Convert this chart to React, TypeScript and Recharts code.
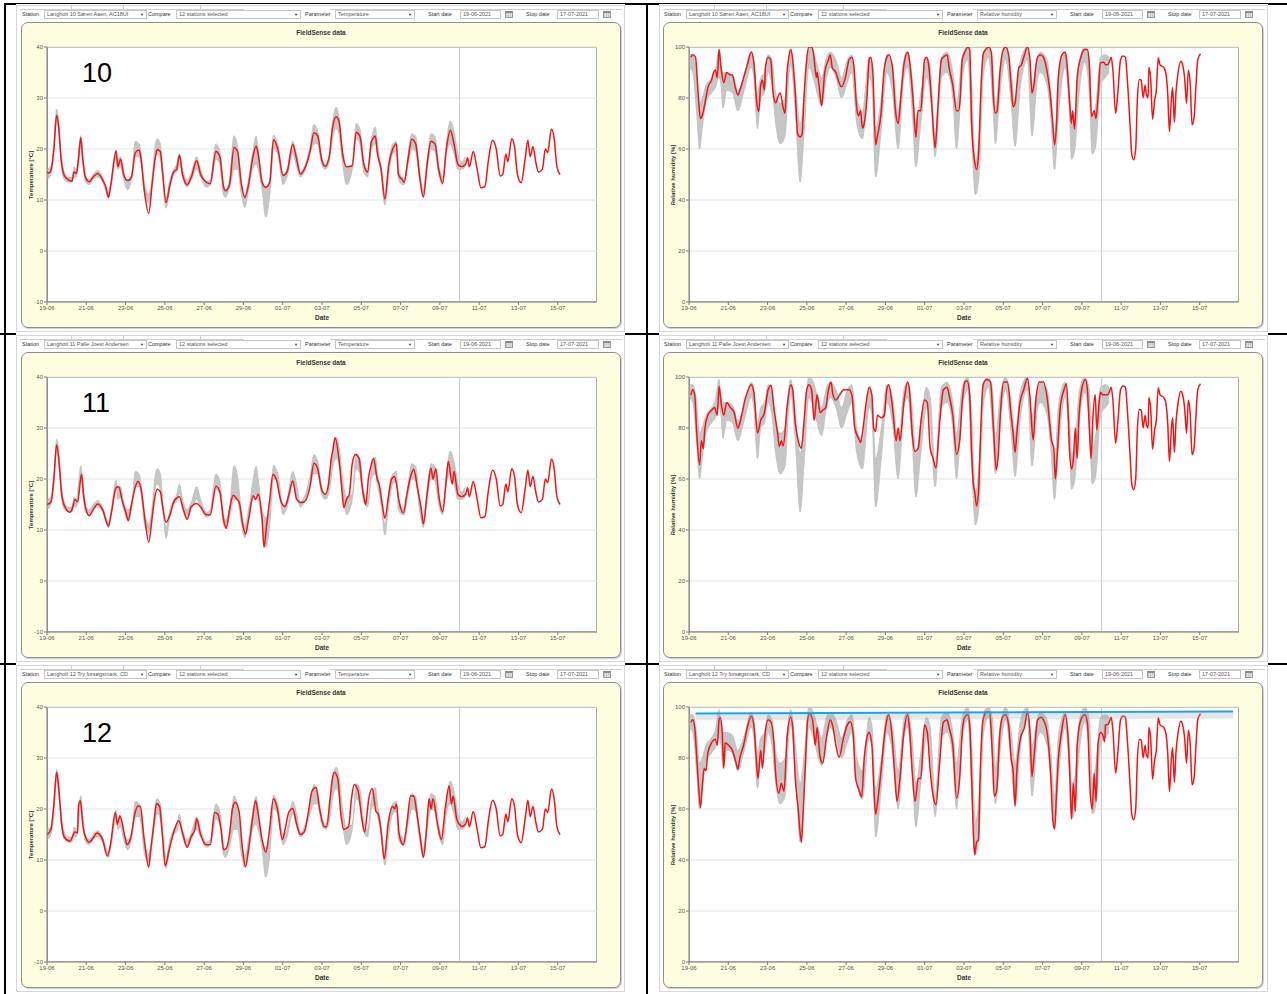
import React from 'react';
import { ComposedChart, Line, Area, XAxis, YAxis, CartesianGrid, ReferenceLine } from 'recharts';

type P = [number, number];
type R = [number, number, number];

const FONT = '"Liberation Sans", Arial, sans-serif';

// ---- axis categories ----
const dateTicks = [0, 2, 4, 6, 8, 10, 12, 14, 16, 18, 20, 22, 24, 26];
const dateLabels = ['19-06', '21-06', '23-06', '25-06', '27-06', '29-06', '01-07', '03-07', '05-07', '07-07', '09-07', '11-07', '13-07', '15-07'];
const tempTicks = [-10, 0, 10, 20, 30, 40];
const rhTicks = [0, 20, 40, 60, 80, 100];
const nowDay = 21;

const stations = ['Langholt 10 Søren Aaen, AC18UI', 'Langholt 11 Palle Joest Andersen', 'Langholt 12 Try forsøgsmark, CD'];
const panelNumbers = ['10', '11', '12'];

// ---- temperature: forecast (shared) ----
const tempForecast: P[] = [[21.11,16.5],[21.31,17],[21.41,18.3],[21.5,16.5],[21.7,19.5],[21.9,16],[22.09,12.4],[22.29,12.6],[22.48,18],[22.68,21.7],[22.87,20],[23.07,14.7],[23.2,15],[23.36,19],[23.46,17.5],[23.66,22],[23.8,20.5],[23.95,15],[24.14,13.4],[24.34,18],[24.48,21.7],[24.6,18.5],[24.74,20.5],[24.88,17.5],[25.02,15.5],[25.22,16],[25.37,20],[25.49,19.3],[25.68,23.9],[25.82,22],[25.96,16.5],[26.12,15]];

// ---- temperature: other stations (min / max of the comparison group) ----
const tempGray: R[] = [[0,14,16],[0.2,15,16.5],[0.35,19,21],[0.49,25.5,27.8],[0.6,23,25.5],[0.72,17,19],[0.88,14,15.5],[1.08,13.5,14.5],[1.27,13.5,14.5],[1.38,14.5,16.5],[1.5,14.5,16],[1.6,17,19],[1.72,20.5,22.6],[1.82,17,19],[1.96,13.5,14.8],[2.15,13,14],[2.35,14,15],[2.58,14.5,15.8],[2.83,13.5,14.5],[3.13,10.5,11.5],[3.25,12.5,13.5],[3.52,18,19.8],[3.6,16,18],[3.75,16.5,18.5],[3.9,14,15.5],[4.11,12,14],[4.3,14,15],[4.5,18.5,21.5],[4.69,18.5,21],[4.79,17,19],[4.95,11.5,13.5],[5.18,9.5,11.2],[5.35,13,14.5],[5.5,18,20.5],[5.61,19,22],[5.77,18,21],[5.87,15,17],[6.06,8.4,10.5],[6.26,12.5,14],[6.45,15,16],[6.6,15.5,17],[6.74,17,19],[6.9,14.5,16],[7.14,12.5,14],[7.35,14,15.5],[7.62,16,18.5],[7.82,14.5,16],[8.11,12.5,13.5],[8.31,13,14],[8.6,18,21],[8.8,17,19.5],[8.99,11,13],[9.09,10.5,12],[9.29,12.5,14],[9.52,16,22.6],[9.7,16,20.5],[9.9,11,13.5],[10.07,8.5,11],[10.26,12,14],[10.46,16,19],[10.65,17,22.5],[10.75,16,20],[10.95,12,14],[11.14,6.6,12.5],[11.34,11,14],[11.53,20,22.7],[11.75,19,21],[12.02,13,15],[12.22,14.5,16],[12.51,19,21.5],[12.71,16.5,19],[12.9,14.5,15.5],[13.1,15.5,16.5],[13.39,19,20.5],[13.59,21,24.8],[13.78,21,23.5],[13.98,17,18.5],[14.17,16,17],[14.37,17.5,19],[14.53,22,25],[14.72,24,28.2],[14.86,23,26.5],[15.05,17,20],[15.25,13,16.5],[15.54,16,17],[15.74,22,25],[15.93,21,24],[16.13,15.5,17.5],[16.32,14.5,16],[16.52,20,22],[16.72,21,24.3],[16.81,19,21.5],[17.01,15,16.5],[17.2,9,11],[17.4,15,17.5],[17.6,19,21],[17.79,19.5,21.5],[17.89,14,16],[18.08,13,14.5],[18.18,13,14],[18.38,17,19],[18.57,20,23],[18.77,19.5,22.5],[18.96,14,16],[19.16,10.5,12],[19.35,16,18],[19.55,20,23],[19.75,19.5,22.5],[19.94,15,17],[20.14,13,14.5],[20.33,19,21],[20.53,21,25.5],[20.72,19,23.5],[20.92,16,19],[21.11,16,17.5],[21.3,16.5,18.5]];

// ---- temperature: selected station ----
const temp10: P[] = [[0,15.5],[0.1,15.3],[0.2,15.8],[0.35,20],[0.49,26.6],[0.6,24],[0.72,18],[0.88,14.8],[1.08,14],[1.27,13.7],[1.38,15.5],[1.5,15.2],[1.6,18],[1.72,22.2],[1.82,18],[1.96,14.4],[2.15,13.6],[2.35,14.5],[2.58,15.2],[2.83,14],[3.0,12.5],[3.13,10.5],[3.25,13],[3.52,19.6],[3.6,16.5],[3.75,18],[3.9,15],[4.11,13.8],[4.3,14.5],[4.5,19.3],[4.69,19.8],[4.79,18],[4.95,12],[5.18,7.4],[5.35,13],[5.5,18],[5.61,19.9],[5.77,19.5],[5.87,16],[6.06,9.5],[6.26,13],[6.45,15.5],[6.6,16],[6.74,18.8],[6.9,15],[7.14,13],[7.35,14.5],[7.62,17.7],[7.82,15],[8.11,13.5],[8.31,13.2],[8.6,19.5],[8.8,18.5],[8.99,12.5],[9.09,11.8],[9.29,13],[9.52,20.3],[9.7,19.5],[9.9,13],[10.07,10.5],[10.26,13],[10.46,18],[10.65,20.6],[10.75,19],[10.95,13.5],[11.14,12.5],[11.34,13.5],[11.53,21.8],[11.75,20],[12.02,14.8],[12.22,15.5],[12.51,20.9],[12.71,18],[12.9,15.1],[13.1,16],[13.39,19.5],[13.59,23.2],[13.78,22.6],[13.98,18],[14.17,16.6],[14.37,18.5],[14.53,24],[14.72,26.3],[14.86,25.5],[15.05,19],[15.25,16.5],[15.54,16.7],[15.74,23.3],[15.93,22.5],[16.13,17],[16.32,15.5],[16.52,21.5],[16.72,22.5],[16.81,19.5],[17.01,16],[17.2,10.2],[17.4,17],[17.6,20],[17.79,21],[17.89,15],[18.08,14],[18.18,13.5],[18.38,18],[18.57,21.9],[18.77,21],[18.96,15],[19.16,10.6],[19.35,17],[19.55,21.5],[19.75,21],[19.94,16],[20.14,13.3],[20.33,20],[20.53,23.7],[20.72,21],[20.92,17],[21.11,16.5]];

const temp11: P[] = [[0,15],[0.2,15.5],[0.35,20],[0.49,26.7],[0.62,23],[0.75,17],[0.88,14.8],[1.17,13.5],[1.27,14],[1.43,16],[1.56,15.5],[1.76,21],[1.86,17],[1.96,14.5],[2.15,12.8],[2.35,14],[2.58,15.1],[2.83,14],[3.13,10.8],[3.26,13],[3.52,18.3],[3.66,18.5],[3.81,16],[4.01,13.5],[4.14,11.8],[4.3,15],[4.5,18.5],[4.63,19.5],[4.79,18],[4.99,12],[5.18,7.6],[5.34,12],[5.47,16],[5.61,18],[5.77,17.5],[5.87,15],[6.06,11.5],[6.26,13],[6.45,15.5],[6.65,16.4],[6.74,16.5],[6.94,14],[7.14,12.1],[7.33,14.5],[7.62,15.2],[7.82,14.5],[8.11,13],[8.31,13],[8.6,18.6],[8.8,17.5],[8.99,12],[9.13,10.3],[9.29,14],[9.48,16.8],[9.68,16],[9.78,15.5],[9.97,11],[10.11,9.2],[10.26,12],[10.5,16.7],[10.62,16],[10.75,17],[10.95,12],[11.05,6.6],[11.18,11],[11.34,16],[11.5,20.9],[11.67,20],[11.92,15.5],[12.12,14.6],[12.32,17],[12.51,19.6],[12.71,16],[12.9,15.4],[13.1,15.5],[13.39,18.5],[13.59,23.1],[13.78,22],[13.98,18],[14.17,17],[14.33,19],[14.47,24],[14.57,26],[14.66,28.1],[14.86,24],[15.01,18],[15.11,14.4],[15.25,16],[15.39,17],[15.54,23],[15.7,24.8],[15.89,24],[16.03,19],[16.13,16.5],[16.23,15],[16.36,20],[16.52,23],[16.62,24],[16.81,20],[16.91,19],[17.07,15],[17.2,12.3],[17.4,17],[17.54,20],[17.69,20.5],[17.79,19],[17.93,15.5],[18.14,13.4],[18.32,17],[18.48,20],[18.67,21.9],[18.87,18],[19.06,14],[19.16,11.2],[19.35,17],[19.55,22.1],[19.65,20],[19.8,22],[19.94,17],[20.14,13.6],[20.33,20],[20.43,23.5],[20.63,19],[20.72,21.5],[20.92,17],[21.11,16.5]];

const temp12: P[] = [[0,15],[0.2,16],[0.35,21],[0.49,27.2],[0.62,23],[0.75,17],[0.88,14.5],[1.17,13.7],[1.43,15.5],[1.56,15.3],[1.6,20.5],[1.7,21.6],[1.82,17],[1.96,14.5],[2.15,13.5],[2.35,14.3],[2.54,15.3],[2.83,14],[3.07,10.8],[3.23,13],[3.48,19.3],[3.58,17],[3.71,18.7],[3.97,14.5],[4.07,13],[4.24,14],[4.5,19.5],[4.63,20.6],[4.75,20.5],[4.95,14],[5.18,8.6],[5.28,12],[5.47,18],[5.57,21.1],[5.73,20.5],[5.87,15],[6.02,8.9],[6.22,12],[6.45,15.5],[6.71,17.7],[6.9,15.3],[7.14,12.5],[7.33,14.5],[7.53,16],[7.62,18.1],[7.82,15],[8.11,13],[8.31,13],[8.54,19.3],[8.7,19],[8.86,16],[8.99,12],[9.13,12.3],[9.29,15],[9.44,20],[9.58,21.3],[9.78,19.5],[9.93,13],[10.11,8.7],[10.26,12],[10.46,18],[10.62,21.6],[10.75,19],[10.95,14],[11.14,11.5],[11.3,15],[11.53,22],[11.73,20],[11.98,14],[12.12,16],[12.32,19.5],[12.51,20.1],[12.71,17],[12.9,15],[13.1,15.5],[13.29,19],[13.49,23.5],[13.69,24.2],[13.88,20],[14.12,16.5],[14.23,16.5],[14.41,22],[14.53,26],[14.62,27.2],[14.8,26],[14.96,19],[15.11,16],[15.35,16.5],[15.5,22],[15.64,24.8],[15.84,23.5],[16.03,18],[16.17,15.5],[16.32,20],[16.38,22],[16.56,24],[16.75,19.5],[16.87,19],[17.01,15.5],[17.17,10.2],[17.36,17],[17.6,20.5],[17.69,20],[17.79,21],[17.93,15],[18.14,13],[18.32,17],[18.51,22.6],[18.67,22.5],[18.87,18],[19.02,14],[19.16,10.5],[19.32,16],[19.45,22],[19.55,20],[19.65,22],[19.88,17],[20.08,14],[20.27,20],[20.47,24.5],[20.59,21],[20.68,22.5],[20.86,18],[21.11,16.5]];

// ---- relative humidity: forecast (shared) ----
const rhForecast: P[] = [[21.2,93],[21.3,93],[21.39,94],[21.49,96],[21.58,91],[21.72,74],[21.83,82],[21.97,95],[22.1,96.5],[22.22,96],[22.29,90],[22.45,70],[22.54,58],[22.64,55.8],[22.74,60],[22.83,80],[22.93,87.3],[23.02,87],[23.12,80.1],[23.22,85],[23.27,82],[23.37,80],[23.41,92],[23.5,88],[23.6,71.7],[23.7,79],[23.79,83],[23.89,95.8],[23.98,93],[24.17,92],[24.27,90],[24.37,82],[24.46,66.9],[24.56,80],[24.62,84],[24.71,70.5],[24.79,82],[24.9,90],[25.04,94.4],[25.13,93],[25.23,88],[25.33,77.9],[25.42,90.9],[25.52,85],[25.61,69.5],[25.71,72],[25.81,85],[25.9,95],[26.04,97.4]];

// ---- relative humidity: other stations (min / max) ----
const rhGray: R[] = [[0,92,97],[0.19,90,97],[0.38,75,90],[0.54,60,78],[0.67,68,80],[0.86,78,85],[1.15,82,88],[1.34,84,91],[1.53,88,99],[1.63,85,93],[1.73,76,90],[1.92,83,90],[2.21,82,89],[2.49,75,83],[2.78,82,88],[3.17,92,98],[3.3,88,95],[3.49,68,82],[3.65,80,88],[3.84,82,90],[4.03,90,97],[4.22,85,95],[4.41,70,82],[4.64,62,78],[4.89,65,80],[5.08,88,96],[5.18,93,99],[5.41,75,85],[5.66,47,70],[5.85,65,80],[6.1,92,100],[6.33,88,98],[6.52,82,93],[6.75,77,88],[7.0,88,96],[7.19,92,98],[7.48,88,95],[7.77,80,88],[8.06,86,95],[8.29,90,97],[8.54,70,80],[8.83,64,75],[9.17,88,96],[9.31,85,93],[9.5,49,68],[9.79,68,80],[10.07,90,97],[10.36,82,92],[10.65,60,75],[10.94,88,95],[11.13,92,98],[11.36,75,88],[11.55,53,70],[11.8,70,82],[12.09,88,96],[12.28,82,92],[12.53,57,65],[12.85,88,96],[13.14,90,98],[13.43,80,90],[13.62,60,78],[13.91,88,96],[14.2,95,100],[14.39,65,85],[14.58,42,55],[14.77,50,65],[15.0,90,98],[15.25,96,100],[15.45,80,95],[15.6,62,76],[15.83,82,92],[16.12,95,100],[16.4,78,90],[16.6,61,78],[16.88,85,95],[17.23,95,100],[17.46,65,85],[17.75,88,96],[17.88,90,98],[18.23,85,95],[18.42,72,82],[18.61,52,65],[18.8,72,88],[19.15,92,98],[19.38,72,82],[19.47,56,70],[19.63,59,72],[19.86,82,94],[20.15,94,100],[20.38,82,95],[20.53,58,72],[20.72,62,78],[20.95,85,96],[21.2,88,97],[21.39,90,96]];

// ---- relative humidity: selected station ----
const rh10: P[] = [[0.1,96],[0.19,97],[0.33,96],[0.48,80],[0.58,72],[0.67,73],[0.86,80],[0.96,84],[1.15,87],[1.25,90],[1.34,91],[1.44,88],[1.53,99],[1.63,92],[1.77,86],[1.92,90],[2.11,89],[2.21,89],[2.36,84],[2.49,81.2],[2.59,83],[2.78,88],[2.97,93],[3.17,98],[3.3,94],[3.45,78],[3.55,74.7],[3.65,85],[3.74,87],[3.84,83.1],[3.89,92],[4.03,96],[4.16,95],[4.28,82],[4.41,78],[4.51,80],[4.64,82],[4.8,76],[4.89,74],[4.99,90],[5.08,96],[5.18,99],[5.28,95],[5.41,82],[5.53,66],[5.66,64.7],[5.76,66],[5.85,80],[5.99,95],[6.1,100],[6.24,100],[6.33,98],[6.49,88],[6.52,90],[6.62,85],[6.75,77],[6.91,90],[7.1,95],[7.19,97],[7.29,92],[7.48,90],[7.64,86],[7.77,84.4],[7.96,88],[8.15,95],[8.29,96],[8.4,92],[8.54,76],[8.63,73],[8.73,75],[8.83,68.2],[8.92,70],[9.06,80],[9.17,95],[9.25,96],[9.36,90],[9.5,61.7],[9.59,65],[9.79,75],[9.92,90],[10.07,96],[10.17,97],[10.36,92],[10.51,75],[10.65,70],[10.78,80],[10.94,93],[11.13,98],[11.22,95],[11.42,78],[11.55,64.5],[11.65,75],[11.8,75],[11.9,85],[11.99,95],[12.09,96],[12.2,93],[12.38,75],[12.53,60.4],[12.66,75],[12.85,95],[12.95,96],[13.14,97],[13.24,92],[13.43,85],[13.62,75],[13.72,75],[13.81,80],[13.91,95],[14.04,98],[14.2,100],[14.29,99],[14.39,70],[14.54,55],[14.64,52],[14.74,58],[14.87,85],[14.97,97],[15.1,99],[15.25,100],[15.39,98],[15.5,80],[15.6,74],[15.69,75],[15.83,90],[15.96,98],[16.12,100],[16.27,97],[16.4,85],[16.5,76.6],[16.6,78],[16.69,85],[16.79,92],[16.92,93],[17.08,97],[17.23,100],[17.36,95],[17.46,82],[17.56,85],[17.65,92],[17.75,96],[17.88,97],[18.04,96],[18.19,92],[18.38,82],[18.52,70],[18.61,61.7],[18.71,70],[18.8,88],[18.99,97],[19.15,98],[19.22,95],[19.38,78],[19.47,70],[19.53,75],[19.63,67.8],[19.76,88],[19.95,96],[20.15,99],[20.28,99],[20.38,93],[20.49,72.7],[20.63,75],[20.72,72],[20.82,80],[20.95,93.8],[21.1,94],[21.2,93]];

const rh11: P[] = [[0.1,93],[0.19,95],[0.29,93],[0.38,80],[0.54,65.6],[0.63,75],[0.73,72],[0.81,80],[0.96,85],[1.15,87],[1.3,88],[1.44,85],[1.53,96.4],[1.63,90],[1.77,85],[1.92,90],[2.11,88],[2.3,86],[2.49,79.9],[2.59,82],[2.88,92],[3.17,97],[3.3,94],[3.49,78],[3.65,83],[3.84,86],[4.03,95],[4.18,96.8],[4.32,88],[4.51,78],[4.6,72.7],[4.7,75],[4.8,73],[4.99,88],[5.18,97],[5.28,95],[5.41,82],[5.56,75],[5.72,72.1],[5.85,82],[5.99,95],[6.1,97],[6.24,95],[6.37,83],[6.52,93],[6.68,86],[6.81,87],[6.96,88],[7.1,95],[7.23,98],[7.33,93],[7.48,91],[7.67,93],[7.87,95],[8.15,95],[8.29,93],[8.44,80],[8.63,76],[8.73,74.3],[8.83,78],[9.02,90],[9.17,96],[9.31,93],[9.4,80],[9.5,78.6],[9.59,85],[9.79,84],[9.94,85],[10.07,95],[10.17,97],[10.36,88],[10.55,75],[10.65,80],[10.74,75],[10.94,90],[11.13,98],[11.22,95],[11.36,78],[11.51,70.8],[11.67,72],[11.8,82],[11.99,91],[12.13,90],[12.28,72],[12.43,68],[12.57,64.3],[12.76,82],[12.95,95],[13.14,96],[13.24,93],[13.43,85],[13.62,69.7],[13.78,75],[13.91,90],[14.04,98],[14.16,98.5],[14.29,93],[14.39,70],[14.49,57],[14.54,55.2],[14.64,49.4],[14.74,55],[14.81,70],[14.97,97],[15.16,99],[15.35,98],[15.5,80],[15.64,63.6],[15.73,68],[15.89,90],[16.02,98],[16.21,98],[16.4,85],[16.5,78],[16.6,70.4],[16.69,78],[16.85,90],[17.04,95],[17.23,99.5],[17.36,92],[17.52,75.3],[17.65,90],[17.84,98],[18.04,98],[18.23,92],[18.46,75],[18.57,72],[18.65,60],[18.75,70],[18.9,88],[19.09,95],[19.22,97.4],[19.38,70],[19.47,63.9],[19.57,68],[19.67,80],[19.76,68],[19.86,85],[19.99,95],[20.18,99],[20.28,95],[20.38,80],[20.47,68],[20.57,85],[20.68,93],[20.76,79.2],[20.88,90],[20.95,94],[21.07,93],[21.2,93]];

const rh12: P[] = [[0.1,94],[0.19,95],[0.29,92],[0.38,82],[0.48,70],[0.58,60.6],[0.67,68],[0.77,76],[0.86,75],[0.96,82],[1.15,86],[1.34,87.4],[1.44,85],[1.53,95],[1.59,96],[1.69,90],[1.77,76],[1.84,86],[2.01,85],[2.21,83],[2.4,78],[2.49,75.6],[2.59,80],[2.78,85],[2.97,92],[3.17,96.4],[3.3,93],[3.42,80],[3.51,72],[3.65,83],[3.74,76],[3.88,90],[4.03,95],[4.18,94],[4.32,86],[4.41,74],[4.57,66.2],[4.7,70],[4.84,67],[4.99,88],[5.18,96],[5.28,92],[5.41,72],[5.56,60],[5.72,47],[5.79,55],[5.91,75],[6.04,95],[6.14,97.4],[6.29,95],[6.43,85],[6.52,92],[6.68,80],[6.81,78],[7.0,88],[7.19,95],[7.33,92],[7.48,85],[7.64,80.3],[7.87,88],[8.06,93],[8.21,94.2],[8.35,90],[8.48,72],[8.63,68],[8.79,64.7],[8.92,80],[9.06,88],[9.17,90],[9.31,85],[9.4,70],[9.5,58],[9.59,62],[9.79,76],[9.94,88],[10.07,95],[10.17,97],[10.32,90],[10.46,75],[10.59,63],[10.74,72],[10.94,90],[11.13,97],[11.22,92],[11.36,75],[11.51,63],[11.67,72],[11.8,72],[11.99,92.9],[12.13,90],[12.28,75],[12.43,65],[12.57,61.7],[12.76,78],[12.95,94],[13.14,95],[13.24,92],[13.43,85],[13.62,64.3],[13.78,72],[13.91,90],[14.04,96],[14.2,97],[14.29,93],[14.39,72],[14.49,48],[14.54,42.1],[14.64,47],[14.74,48],[14.81,70],[14.97,95],[15.16,98],[15.31,98],[15.45,80],[15.54,65],[15.66,67],[15.83,90],[15.96,96],[16.12,97],[16.27,93],[16.4,80],[16.5,75],[16.6,61.3],[16.69,75],[16.88,88],[17.08,92],[17.23,98],[17.36,90],[17.46,72.7],[17.56,80],[17.75,95],[17.94,96],[18.04,95],[18.23,90],[18.42,72],[18.52,55.8],[18.61,52.2],[18.71,66],[18.8,79],[18.96,90],[19.15,97],[19.28,90],[19.38,75],[19.47,56.1],[19.57,70],[19.67,59.1],[19.76,85],[19.95,95],[20.15,97],[20.28,94],[20.43,65.8],[20.53,60],[20.63,74],[20.72,63],[20.82,85],[20.95,90],[21.07,89],[21.16,86.4],[21.2,93]];

// blue reference line drawn in the last humidity panel
const rhBlue: P[] = [[0.33, 97.5], [27.7, 98.2]];

const tempRed = [temp10, temp11, temp12];
const rhRed = [rh10, rh11, rh12];

const toPts = (a: P[]) => a.map(([d, v]) => ({ d, v }));
const toRange = (a: R[]) => a.map(([d, lo, hi]) => ({ d, range: [lo, hi] }));
const fmtDate = (v: number) => dateLabels[dateTicks.indexOf(v)] ?? '';

const txt: React.CSSProperties = { position: 'absolute', fontFamily: FONT, fontSize: 5.5, color: '#333', whiteSpace: 'nowrap', lineHeight: '9px' };

function Box({ left, width, text, arrow }: { left: number; width: number; text: string; arrow?: boolean }) {
  return (
    <div style={{ position: 'absolute', left, top: 5, width, height: 9, boxSizing: 'border-box', border: '1px solid #c6c6c6', background: '#fff' }}>
      <div style={{ ...txt, left: 2, top: -1, color: '#555' }}>{text}</div>
      {arrow && <div style={{ ...txt, right: 2, top: -1, fontSize: 4, color: '#333' }}>▼</div>}
    </div>
  );
}

function Cal({ left }: { left: number }) {
  return <div style={{ position: 'absolute', left, top: 6, width: 8, height: 7, boxSizing: 'border-box', border: '1px solid #9a9a9a', borderTop: '2px solid #8a8a8a', background: 'repeating-linear-gradient(90deg,#c8c8c8 0 1px,#e2e2e2 1px 2px)' }} />;
}

function Panel({ col, row, temp }: { col: number; row: number; temp: boolean }) {
  const panelLeft = col === 0 ? 16 : 659;
  const panelWidth = col === 0 ? 609 : 609;
  const boxLeft = col === 0 ? 5 : 4; // yellow box left inside panel
  const top = 4 + row * 330;
  const bx = boxLeft;
  const red = temp ? tempRed[row] : rhRed[row];
  const fc = temp ? tempForecast : rhForecast;
  const gray = temp ? tempGray : rhGray;
  return (
    <div style={{ position: 'absolute', left: panelLeft, top, width: panelWidth, height: 330, background: '#fff' }}>
      <div style={{ position: 'absolute', left: 0, top: 1, width: panelWidth, height: 327, boxSizing: 'border-box', border: '1px solid #d6d6d6' }} />
      {/* tab strip */}
      <div style={{ position: 'absolute', left: 4, top: 5, width: 224, height: 0, borderTop: '1px solid #cfcfcf' }} />
      <div style={{ position: 'absolute', left: 314, top: 5, width: 292, height: 0, borderTop: '1px solid #cfcfcf' }} />
      {[55, 107, 184].map((x) => (
        <div key={x} style={{ position: 'absolute', left: x, top: 1, width: 0, height: 4, borderLeft: '1px solid #cfcfcf' }} />
      ))}
      {/* toolbar */}
      <div style={{ position: 'absolute', left: bx, top: 1, width: 600, height: 16 }}>
        <div style={{ ...txt, left: 1, top: 5 }}>Station</div>
        <Box left={23} width={103} text={stations[row]} arrow />
        <div style={{ ...txt, left: 127, top: 5 }}>Compare</div>
        <Box left={155} width={125} text="12 stations selected" arrow />
        <div style={{ ...txt, left: 284, top: 5 }}>Parameter</div>
        <Box left={314} width={80} text={temp ? 'Temperature' : 'Relative humidity'} arrow />
        <div style={{ ...txt, left: 407, top: 5 }}>Start date</div>
        <Box left={439} width={41} text="19-06-2021" />
        <Cal left={484} />
        <div style={{ ...txt, left: 505, top: 5 }}>Stop date</div>
        <Box left={536} width={42} text="17-07-2021" />
        <Cal left={582} />
      </div>
      {/* yellow chart box */}
      <div style={{ position: 'absolute', left: bx, top: 18, width: 600, height: 306, boxSizing: 'border-box', background: '#fefee1', border: '1px solid #8e8e8e', borderRadius: 7, boxShadow: '1px 1px 1px rgba(0,0,0,0.2)' }}>
        <div style={{ position: 'absolute', left: -1, top: -1, width: 600, height: 306 }}>
          <div style={{ position: 'absolute', left: 0, top: 7, width: 600, textAlign: 'center', fontFamily: FONT, fontWeight: 'bold', fontSize: 6.5, color: '#333', lineHeight: '8px' }}>FieldSense data</div>
          <div style={{ position: 'absolute', left: 26, top: 25, width: 550, height: 255, boxSizing: 'border-box', background: '#fff', border: '1px solid #a9a9a9' }} />
          <ComposedChart width={600} height={306} margin={{ top: 25, right: 24, bottom: 0, left: 0 }} style={{ position: 'absolute', left: 0, top: 0 }}>
            <CartesianGrid vertical={false} stroke="#e2e2e2" />
            <XAxis type="number" dataKey="d" domain={[0, 28]} ticks={dateTicks} interval={0} tickFormatter={fmtDate} height={26} tickSize={3} tickMargin={1} stroke="#7a7a7a" tick={{ fontSize: 6, fill: '#555', fontFamily: FONT }} allowDataOverflow />
            <YAxis type="number" domain={temp ? [-10, 40] : [0, 100]} ticks={temp ? tempTicks : rhTicks} interval={0} width={26} tickSize={3} tickMargin={1} stroke="#7a7a7a" tick={{ fontSize: 6, fill: '#555', fontFamily: FONT }} allowDataOverflow />
            <ReferenceLine x={nowDay} stroke="#cdcdcd" strokeWidth={1} />
            <Area data={toRange(gray)} dataKey="range" type="monotone" stroke="#bcbcbc" strokeWidth={0.8} fill="#c6c6c6" fillOpacity={1} dot={false} activeDot={false} isAnimationActive={false} />
            <Line data={toPts(red)} dataKey="v" type="monotone" stroke="#ee1616" strokeWidth={1.5} dot={false} activeDot={false} isAnimationActive={false} />
            <Line data={toPts(fc)} dataKey="v" type="monotone" stroke="#ee1616" strokeWidth={1.5} dot={false} activeDot={false} isAnimationActive={false} />
            {!temp && row === 2 && (
              <Line data={toPts(rhBlue)} dataKey="v" type="linear" stroke="#9a9a9a" strokeOpacity={0.25} strokeWidth={6} dot={false} activeDot={false} isAnimationActive={false} transform="translate(0,4)" />
            )}
            {!temp && row === 2 && (
              <Line data={toPts(rhBlue)} dataKey="v" type="linear" stroke="#1ba3e6" strokeWidth={2} dot={false} activeDot={false} isAnimationActive={false} />
            )}
          </ComposedChart>
          <div style={{ position: 'absolute', left: 10, top: 153, transform: 'translate(-50%,-50%) rotate(-90deg)', fontFamily: FONT, fontWeight: 'bold', fontSize: 6, color: '#333', whiteSpace: 'nowrap', lineHeight: '7px' }}>
            {temp ? 'Temperature [°C]' : 'Relative humidity [%]'}
          </div>
          <div style={{ position: 'absolute', left: 26, top: 292, width: 550, textAlign: 'center', fontFamily: FONT, fontWeight: 'bold', fontSize: 6.5, color: '#333', lineHeight: '8px' }}>Date</div>
          {temp && (
            <div style={{ position: 'absolute', left: 61, top: 38, fontFamily: FONT, fontSize: 27, lineHeight: '27px', color: '#000' }}>{panelNumbers[row]}</div>
          )}
        </div>
      </div>
    </div>
  );
}

export default function App() {
  const line = (s: React.CSSProperties) => <div style={{ position: 'absolute', background: '#000', ...s }} />;
  return (
    <div style={{ position: 'absolute', left: 0, top: 0, width: 1287, height: 994, background: '#fff', overflow: 'hidden' }}>
      {line({ left: 4, top: 3, width: 1283, height: 2 })}
      {line({ left: 4, top: 3, width: 2, height: 991 })}
      {line({ left: 646, top: 3, width: 2, height: 991 })}
      {line({ left: 0, top: 333, width: 1287, height: 2 })}
      {line({ left: 0, top: 663, width: 1287, height: 2 })}
      {[0, 1, 2].map((r) => (
        <React.Fragment key={r}>
          <Panel col={0} row={r} temp />
          <Panel col={1} row={r} temp={false} />
        </React.Fragment>
      ))}
    </div>
  );
}
